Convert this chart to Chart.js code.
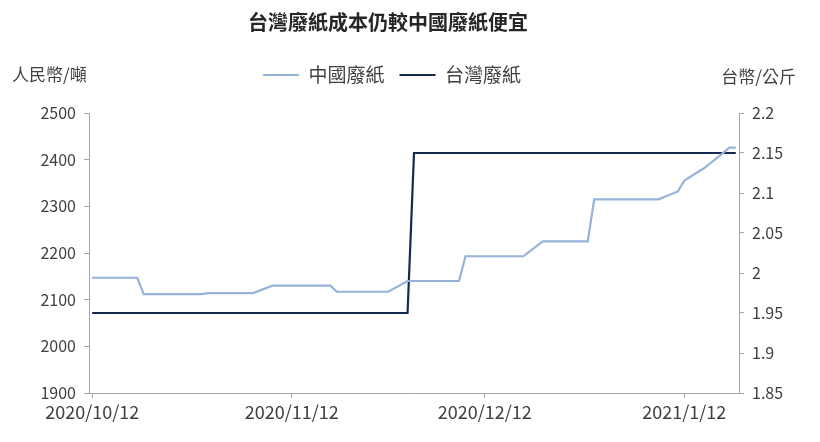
<!DOCTYPE html>
<html>
<head>
<meta charset="utf-8">
<script src="https://cdn.jsdelivr.net/npm/chart.js@4.4.1/dist/chart.umd.min.js"></script>
<style>
  body { margin: 0; background: #fff; }
  #wrap { width: 820px; height: 442px; position: relative; }
</style>
</head>
<body>
<div id="wrap"><canvas id="c"></canvas></div>
<script>
// days counted from 2020/10/12
const chinaDays   = [0, 7, 8, 17, 18, 25, 28, 37, 38, 46, 49, 57, 58, 67, 70, 77, 78, 88, 91, 92, 93, 95, 98, 99, 100];
const chinaValues = [2147, 2147, 2112, 2112, 2114, 2114, 2130, 2130, 2117, 2117, 2140, 2140, 2193, 2193, 2225, 2225, 2315, 2315, 2332, 2355, 2364, 2381, 2414, 2426, 2426];
const taiwanDays   = [0, 49, 50, 100];
const taiwanValues = [1.95, 1.95, 2.15, 2.15];
const tickDays   = [0, 31, 61, 92];
const tickLabels = ['2020/10/12', '2020/11/12', '2020/12/12', '2021/1/12'];

const FONT = '"Noto Sans CJK TC", "Noto Sans", sans-serif';
const TXT = '#404040';
const AXIS = '#A6A6A6';

// title / legend are not centred on the canvas in the original, and the legend
// needs extra room below it so the plot starts lower
const tweakBoxes = {
    id: 'tweakBoxes',
    beforeInit(chart) {
        const lg = chart.legend;
        const fit = lg.fit;
        lg.fit = function () { fit.call(this); this.height = 62.5; };
    },
    afterLayout(chart) {
        chart.titleBlock.left -= 22;
        chart.titleBlock.right -= 22;
        chart.legend.left -= 18;
        chart.legend.right -= 18;
    }
};

const axisTitles = {
    id: 'axisTitles',
    afterDraw(chart) {
        const ctx = chart.ctx;
        const y = 75;
        ctx.save();
        ctx.font = '17px ' + FONT;
        ctx.fillStyle = TXT;
        ctx.textBaseline = 'middle';
        ctx.textAlign = 'left';
        ctx.fillText('人民幣/噸', 12, y);
        ctx.textAlign = 'right';
        ctx.fillText('台幣/公斤', 796, y + 2);
        ctx.restore();
    }
};

new Chart(document.getElementById('c'), {
    type: 'line',
    data: {
        datasets: [{
            label: '中國廢紙',
            data: chinaDays.map((d, i) => ({x: d, y: chinaValues[i]})),
            borderColor: '#95B3DB',
            backgroundColor: '#95B3DB',
            borderWidth: 2.2,
            pointRadius: 0,
            tension: 0,
            yAxisID: 'y'
        }, {
            label: '台灣廢紙',
            data: taiwanDays.map((d, i) => ({x: d, y: taiwanValues[i]})),
            borderColor: '#15294F',
            backgroundColor: '#15294F',
            borderWidth: 2.2,
            pointRadius: 0,
            tension: 0,
            yAxisID: 'y1'
        }]
    },
    options: {
        responsive: true,
        maintainAspectRatio: false,
        animation: false,
        layout: { padding: 0 },
        plugins: {
            title: {
                display: true,
                text: '台灣廢紙成本仍較中國廢紙便宜',
                color: '#262626',
                font: { family: FONT, size: 20, weight: 'bold' },
                padding: { top: 10, bottom: 16.5 }
            },
            legend: {
                position: 'top',
                labels: {
                    color: TXT,
                    font: { family: FONT, size: 19 },
                    boxWidth: 36,
                    boxHeight: 2,
                    padding: 15,
                    generateLabels: chart =>
                        Chart.defaults.plugins.legend.labels.generateLabels(chart)
                            .map(item => Object.assign(item, { lineWidth: 0 }))
                }
            },
            tooltip: { enabled: false }
        },
        scales: {
            x: {
                type: 'linear',
                min: -0.5,
                max: 100.5,
                afterBuildTicks: s => { s.ticks = tickDays.map(v => ({value: v})); },
                afterFit: s => { s.height = 49; },
                ticks: {
                    color: TXT,
                    font: { family: FONT, size: 18 },
                    padding: 3,
                    maxRotation: 0,
                    autoSkip: false,
                    callback: v => tickLabels[tickDays.indexOf(v)]
                },
                grid: { display: true, drawOnChartArea: false, tickLength: 5, color: AXIS },
                border: { display: true, color: AXIS }
            },
            y: {
                position: 'left',
                min: 1900,
                max: 2500,
                afterFit: s => { s.width = 89; },
                ticks: {
                    stepSize: 100,
                    color: TXT,
                    font: { family: FONT, size: 16 },
                    padding: 8,
                    callback: v => String(v)
                },
                grid: { display: true, drawOnChartArea: false, tickLength: 5, color: AXIS },
                border: { display: true, color: AXIS }
            },
            y1: {
                position: 'right',
                min: 1.85,
                max: 2.2,
                afterFit: s => { s.width = 81; },
                ticks: {
                    stepSize: 0.05,
                    color: TXT,
                    font: { family: FONT, size: 16 },
                    padding: 8,
                    callback: v => String(Number(v.toFixed(2)))
                },
                grid: { display: true, drawOnChartArea: false, tickLength: 5, color: AXIS },
                border: { display: true, color: AXIS }
            }
        }
    },
    plugins: [tweakBoxes, axisTitles]
});
</script>
</body>
</html>
